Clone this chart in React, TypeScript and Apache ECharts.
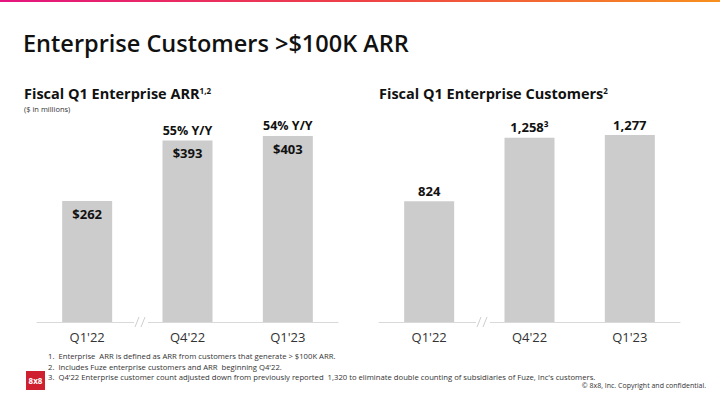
import React, { useEffect, useRef } from "react";
import * as echarts from "echarts";

const categories = ["Q1'22", "Q4'22", "Q1'23"];
const arrValues = [262, 393, 403];
const arrLabels = ["$262", "$393", "$403"];
const yoyLabels = ["", "55% Y/Y", "54% Y/Y"];
const customerValues = [824, 1258, 1277];
const customerLabels = ["824", "1,258³", "1,277"];
const footnotes = [
  "1.  Enterprise  ARR is defined as ARR from customers that generate > $100K ARR.",
  "2.  Includes Fuze enterprise customers and ARR  beginning Q4'22.",
  "3.  Q4'22 Enterprise customer count adjusted down from previously reported  1,320 to eliminate double counting of subsidiaries of Fuze, Inc's customers.",
];

const FONT = "Open Sans";
const BAR = "#cccccc";
const AXIS = "#d9d9d9";

function breakMark(x: number) {
  return [
    { type: "rect", z: 100, shape: { x: x - 1, y: 320, width: 14, height: 4 }, style: { fill: "#ffffff" } },
    { type: "line", z: 101, shape: { x1: x, y1: 327, x2: x + 4, y2: 317 }, style: { stroke: "#cfcfcf", lineWidth: 1 } },
    { type: "line", z: 101, shape: { x1: x + 6, y1: 327, x2: x + 10, y2: 317 }, style: { stroke: "#cfcfcf", lineWidth: 1 } },
  ];
}

const subStyle = { fontFamily: FONT, fontSize: 14.5, fontWeight: 700, color: "#111", lineHeight: 15 };
const supStyle = { fontFamily: FONT, fontSize: 8, fontWeight: 700, color: "#111", lineHeight: 8, padding: [0, 0, 6, 0] };

export default function App() {
  const ref = useRef<HTMLDivElement>(null);
  useEffect(() => {
    if (!ref.current) return;
    const chart = echarts.init(ref.current, undefined, { renderer: "svg" });
    const catAxis = (gridIndex: number) => ({
      type: "category",
      gridIndex,
      data: categories,
      axisTick: { show: false },
      axisLine: { show: true, lineStyle: { color: AXIS, width: 1 } },
      axisLabel: { color: "#333", fontFamily: FONT, fontSize: 13, margin: 8 },
    });
    chart.setOption({
      animation: false,
      backgroundColor: "#ffffff",
      textStyle: { fontFamily: FONT },
      title: [
        {
          text: "Enterprise Customers >$100K ARR",
          left: 23,
          top: 31,
          padding: 0,
          textStyle: { fontFamily: FONT, fontSize: 23.5, fontWeight: 600, color: "#111" },
        },
        {
          text: "{a|Fiscal Q1 Enterprise ARR}{s|1,2}",
          left: 24,
          top: 86,
          padding: 0,
          textStyle: { ...subStyle, rich: { a: { ...subStyle }, s: { ...supStyle } } },
        },
        {
          text: "($ in millions)",
          left: 24,
          top: 105,
          padding: 0,
          textStyle: { fontFamily: FONT, fontSize: 7.5, fontWeight: 400, color: "#333", lineHeight: 8 },
        },
        {
          text: "{a|Fiscal Q1 Enterprise Customers}{s|2}",
          left: 379,
          top: 86,
          padding: 0,
          textStyle: { ...subStyle, rich: { a: { ...subStyle }, s: { ...supStyle } } },
        },
      ],
      grid: [
        { left: 37, width: 301, top: 136, bottom: 83 },
        { left: 379, width: 301, top: 135, bottom: 83 },
      ],
      xAxis: [catAxis(0), catAxis(1)],
      yAxis: [
        { type: "value", gridIndex: 0, min: 0, max: Math.max(...arrValues), show: false, splitLine: { show: false } },
        { type: "value", gridIndex: 1, min: 0, max: Math.max(...customerValues), show: false, splitLine: { show: false } },
      ],
      series: [
        {
          type: "bar",
          xAxisIndex: 0,
          yAxisIndex: 0,
          data: arrValues,
          barWidth: 50,
          itemStyle: { color: BAR },
          label: {
            show: true,
            position: "insideTop",
            distance: 6,
            formatter: (p: any) => arrLabels[p.dataIndex],
            fontFamily: FONT,
            fontSize: 13,
            fontWeight: 700,
            color: "#111",
          },
        },
        {
          type: "bar",
          xAxisIndex: 0,
          yAxisIndex: 0,
          data: arrValues,
          barWidth: 50,
          barGap: "-100%",
          itemStyle: { color: "transparent" },
          silent: true,
          label: {
            show: true,
            position: "top",
            distance: 4,
            formatter: (p: any) => yoyLabels[p.dataIndex],
            fontFamily: FONT,
            fontSize: 12.5,
            fontWeight: 700,
            color: "#111",
          },
        },
        {
          type: "bar",
          xAxisIndex: 1,
          yAxisIndex: 1,
          data: customerValues,
          barWidth: 50,
          itemStyle: { color: BAR },
          label: {
            show: true,
            position: "top",
            distance: 4,
            formatter: (p: any) => customerLabels[p.dataIndex],
            fontFamily: FONT,
            fontSize: 13,
            fontWeight: 700,
            color: "#111",
          },
        },
      ],
      graphic: [
        {
          type: "rect",
          z: 100,
          shape: { x: 0, y: 0, width: 720, height: 2 },
          style: {
            fill: new echarts.graphic.LinearGradient(0, 0, 1, 0, [
              { offset: 0, color: "#e4157f" },
              { offset: 0.5, color: "#ee4146" },
              { offset: 1, color: "#f7901e" },
            ]),
          },
        },
        ...breakMark(135),
        ...breakMark(477),
        ...footnotes.map((t, i) => ({
          type: "text",
          z: 100,
          left: 48,
          top: 352 + i * 10.5,
          style: { text: t, fontFamily: FONT, fontSize: 7.7, fill: "#333" },
        })),
        {
          type: "rect",
          z: 100,
          shape: { x: 26, y: 371, width: 19, height: 19 },
          style: { fill: "#cf2030" },
        },
        {
          type: "text",
          z: 101,
          x: 35.5,
          y: 380.5,
          style: {
            text: "8x8",
            fontFamily: FONT,
            fontSize: 8,
            fontWeight: 700,
            fill: "#ffffff",
            align: "center",
            verticalAlign: "middle",
          },
        },
        {
          type: "text",
          z: 100,
          right: 14,
          top: 382,
          style: { text: "© 8x8, Inc. Copyright and confidential.", fontFamily: FONT, fontSize: 7, fill: "#333" },
        },
      ],
    });
    return () => chart.dispose();
  }, []);
  return (
    <div
      ref={ref}
      style={{ position: "fixed", left: 0, top: 0, width: 720, height: 405, background: "#fff" }}
    />
  );
}
